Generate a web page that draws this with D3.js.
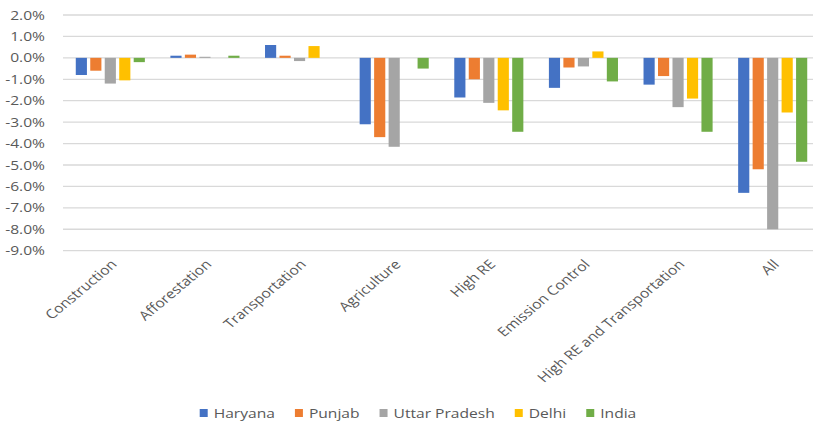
<!DOCTYPE html>
<html>
<head>
<meta charset="utf-8">
<style>
    body { margin: 0; background: #fff; }
    svg { display: block; }
    text { font-family: 'Open Sans', sans-serif; fill: #595959; }
</style>
</head>
<body>
<svg id="chart" width="819" height="424"></svg>

<script src="https://d3js.org/d3.v7.min.js"></script>
<script>
    // data (percent change)
    const categories = ["Construction", "Afforestation", "Transportation", "Agriculture",
        "High RE", "Emission Control", "High RE and Transportation", "All"];
    const series = ["Haryana", "Punjab", "Uttar Pradesh", "Delhi", "India"];
    const haryana = [-0.8, 0.1, 0.6, -3.1, -1.85, -1.4, -1.25, -6.3];
    const punjab = [-0.6, 0.15, 0.1, -3.7, -1.0, -0.45, -0.85, -5.2];
    const uttarPradesh = [-1.2, 0.05, -0.15, -4.15, -2.1, -0.4, -2.3, -8.0];
    const delhi = [-1.05, 0.0, 0.55, 0.0, -2.45, 0.3, -1.9, -2.55];
    const india = [-0.2, 0.1, 0.0, -0.5, -3.45, -1.1, -3.45, -4.85];
    const yTicks = [2, 1, 0, -1, -2, -3, -4, -5, -6, -7, -8, -9];
    const colors = ["#4472C4", "#ED7D31", "#A5A5A5", "#FFC000", "#70AD47"];

    const values = [haryana, punjab, uttarPradesh, delhi, india];

    // the original image is stretched sideways, so draw in a narrower box
    let sx = 1.2;
    let W = 819 / sx;
    let H = 424;

    let svg = d3.select("#chart")
        .attr("viewBox", `0 0 ${W} ${H}`)
        .attr("preserveAspectRatio", "none");

    let left = 63 / sx, right = 820 / sx, gridRight = 813 / sx;

    let y = d3.scaleLinear()
        .domain([2, -9])
        .range([15, 250.7]);

    let x0 = d3.scaleBand()
        .domain(categories)
        .range([left, right])
        .paddingInner(0.27)
        .paddingOuter(0.135);

    let x1 = d3.scaleBand()
        .domain(series)
        .range([0, x0.bandwidth()])
        .paddingInner(0.23);

    // grid
    svg.append("g")
        .selectAll("line")
        .data(yTicks)
        .join("line")
        .attr("x1", left)
        .attr("x2", gridRight)
        .attr("y1", d => y(d))
        .attr("y2", d => y(d))
        .style("stroke", "#d9d9d9")
        .style("stroke-width", 1.3);

    // y labels
    svg.append("g")
        .selectAll("text")
        .data(yTicks)
        .join("text")
        .attr("x", 37.5)
        .attr("y", d => y(d))
        .attr("dy", "0.35em")
        .attr("text-anchor", "end")
        .style("font-size", "13px")
        .text(d => d.toFixed(1) + "%");

    // bars
    let groups = svg.append("g")
        .selectAll("g")
        .data(categories)
        .join("g")
        .attr("transform", d => `translate(${x0(d)},0)`);

    groups.selectAll("rect")
        .data((c, i) => series.map((s, j) => ({ s, j, v: values[j][i] })))
        .join("rect")
        .attr("x", d => x1(d.s))
        .attr("width", x1.bandwidth())
        .attr("y", d => Math.min(y(d.v), y(0)))
        .attr("height", d => Math.abs(y(d.v) - y(0)))
        .style("fill", d => colors[d.j]);

    // category labels
    svg.append("g")
        .selectAll("text")
        .data(categories)
        .join("text")
        .attr("transform", d => `translate(${x0(d) + x0.bandwidth() / 2 + 3},262) rotate(-45)`)
        .attr("text-anchor", "end")
        .attr("dy", "0.35em")
        .style("font-size", "13px")
        .text(d => d);

    // legend
    let legend = svg.append("g");
    let items = legend.selectAll("g")
        .data(series)
        .join("g");

    items.append("rect")
        .attr("width", 8 / sx)
        .attr("height", 8)
        .attr("y", 409)
        .style("fill", (d, i) => colors[i]);

    items.append("text")
        .attr("x", 14 / sx)
        .attr("y", 413)
        .attr("dy", "0.35em")
        .style("font-size", "13px")
        .text(d => d);

    let gap = 20 / sx;
    let offs = [];
    let pos = 0;
    items.each(function () {
        offs.push(pos);
        let w = d3.select(this).select("text").node().getComputedTextLength();
        pos += 14 / sx + w + gap;
    });
    let total = pos - gap;
    let start = 418 / sx - total / 2;
    items.attr("transform", (d, i) => `translate(${start + offs[i]},0)`);
</script>
</body>
</html>
